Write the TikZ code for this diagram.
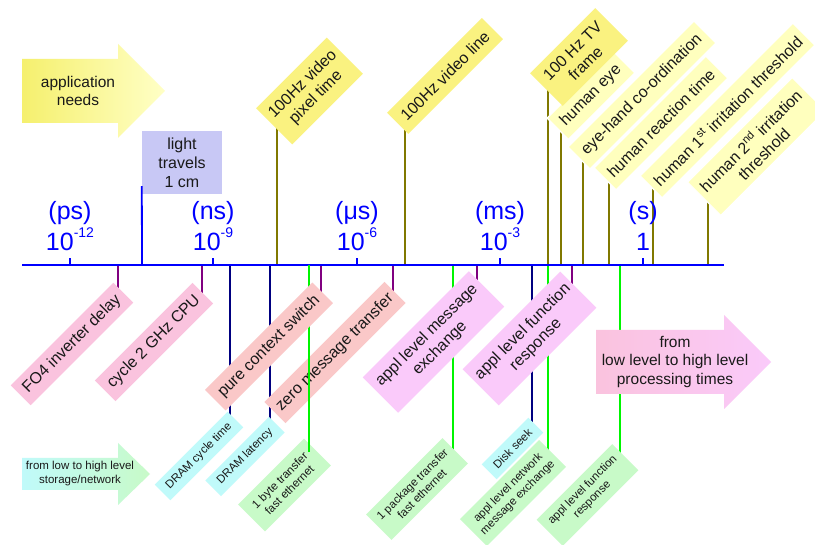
\documentclass[tikz,border=0pt]{standalone}
\usepackage{fontspec}
\setmainfont{Liberation Sans}
\pgfdeclarelayer{bg}
\pgfdeclarelayer{lines}
\pgfsetlayers{bg,lines,main}

\definecolor{axisblue}{RGB}{0,0,255}
\definecolor{olivel}{RGB}{128,120,0}
\definecolor{purplel}{RGB}{128,0,128}
\definecolor{navyl}{RGB}{0,0,128}
\definecolor{greenl}{RGB}{0,245,0}
\definecolor{yelbox}{RGB}{250,242,128}
\definecolor{paleyel}{RGB}{255,255,190}
\definecolor{pinkbox}{RGB}{250,195,222}
\definecolor{salmonbox}{RGB}{250,200,200}
\definecolor{lavpink}{RGB}{250,202,250}
\definecolor{cyanbox}{RGB}{192,250,250}
\definecolor{greenbox}{RGB}{200,250,200}
\definecolor{lavbox}{RGB}{200,200,245}
\definecolor{arrowyelA}{RGB}{245,240,110}
\definecolor{arrowyelB}{RGB}{255,255,198}

\newcommand\pw[1]{\raisebox{13pt}{\fontsize{14}{14}\selectfont #1}}

\begin{document}
\begin{tikzpicture}[x=1pt,y=-1pt,
  txt/.style={inner sep=0pt, align=center, text=black!90},
  lbl/.style={txt, rotate=45, font=\fontsize{16}{18.5}\selectfont},
  sml/.style={txt, rotate=45, font=\fontsize{11.5}{13.5}\selectfont},
  paleb/.style={lbl, fill=paleyel, draw=white, line width=1.2pt},
  yelb/.style={lbl, fill=yelbox},
  unitlab/.style={inner sep=0pt, text=axisblue, font=\fontsize{25}{30}\selectfont, anchor=base},
  upline/.style={draw=olivel, line width=1.8pt},
  tickline/.style={draw=purplel, line width=1.8pt},
  navyline/.style={draw=navyl, line width=1.8pt},
  greenline/.style={draw=greenl, line width=1.8pt},
  axisline/.style={draw=axisblue, line width=1.8pt},
  arrowtxt/.style={txt, font=\fontsize{15.5}{18.5}\selectfont}
]
\useasboundingbox (0,0) rectangle (815,545);
\begin{pgfonlayer}{bg}
\fill[white] (0,0) rectangle (815,545);
\end{pgfonlayer}

% ---------- big arrows ----------
\shade[left color=arrowyelA, right color=arrowyelB]
  (22,59) -- (118,59) -- (118,44) -- (165,91) -- (118,138) -- (118,123) -- (22,123) -- cycle;
\node[arrowtxt] (appneeds) at (78,91) {application\\needs};

\shade[left color=pinkbox, middle color=salmonbox, right color=lavpink]
  (596,330) -- (724,330) -- (724,315) -- (771,362) -- (724,409) -- (724,394) -- (596,394) -- cycle;
\node[arrowtxt] (proc) at (675,362) {from\\low level to high level\\processing times};

\shade[left color=cyanbox, right color=greenbox]
  (22,458) -- (118,458) -- (118,443) -- (150,474) -- (118,505) -- (118,490) -- (22,490) -- cycle;
\node[txt, font=\fontsize{11.5}{13.5}\selectfont] (storage) at (80,473.5) {from low to high level\\storage/network};

% ---------- time axis ----------
\coordinate (axL) at (22,265);
\coordinate (axR) at (724,265);
\draw[axisline] (axL) -- (axR);
\foreach \x in {70,213,357,500,643} \draw[axisline] (\x,265) -- (\x,258);

\node[unitlab] (u-ps) at (70,220) {(ps)};
\node[unitlab] (p-ps) at (70,251) {10\pw{-12}};
\node[unitlab] (u-ns) at (213,220) {(ns)};
\node[unitlab] (p-ns) at (213,251) {10\pw{-9}};
\node[unitlab] (u-us) at (357,220) {(μs)};
\node[unitlab] (p-us) at (357,251) {10\pw{-6}};
\node[unitlab] (u-ms) at (500,220) {(ms)};
\node[unitlab] (p-ms) at (500,251) {10\pw{-3}};
\node[unitlab] (u-s) at (643,220) {(s)};
\node[unitlab] (p-s) at (643,251) {1};

% ---------- light travels ----------
\node[txt, fill=lavbox, minimum width=80pt, minimum height=63pt,
      font=\fontsize{16}{19}\selectfont] (light) at (182,162.5) {light\\travels\\1 cm};
\coordinate (f-light) at (142,265);
\draw[axisline] (f-light) -- ([yshift=8pt]light.south west);

% ---------- application needs (above the axis) ----------
\node[paleb, minimum width=148pt, minimum height=47pt] (irr2) at (756.5,146.5) {human 2\textsuperscript{nd} irritation\\threshold};
\node[paleb, minimum width=216pt, minimum height=31pt] (irr1) at (727.5,110.5) {human 1\textsuperscript{st} irritation threshold};
\node[paleb, minimum width=158pt, minimum height=31pt] (react) at (661,123) {human reaction time};
\node[paleb, minimum width=178pt, minimum height=31pt] (eyehand) at (642,95) {eye-hand co-ordination};
\node[paleb, minimum width=94pt, minimum height=30pt] (eye) at (591,95.5) {human eye};
\node[yelb, minimum width=92pt, minimum height=46pt] (tv) at (579,57) {100 Hz TV\\frame};
\node[yelb, minimum width=100pt, minimum height=51pt] (pix) at (309.5,91) {100Hz video\\pixel time};
\node[yelb, minimum width=134pt, minimum height=30pt] (vline) at (445,76) {100Hz video line};

\begin{pgfonlayer}{lines}
\foreach \x/\n in {277/pix, 405/vline, 548/tv, 561/eye, 583/eyehand, 609/react, 653/irr1, 708/irr2}{
  \coordinate (f-\n) at (\x,265);
  \draw[upline] (f-\n) -- (f-\n |- \n.west);
}
\end{pgfonlayer}

% ---------- processing times (below the axis) ----------
\node[lbl, fill=pinkbox, minimum width=145pt, minimum height=28pt] (fo4) at (72,344) {FO4 inverter delay};
\node[lbl, fill=pinkbox, minimum width=138pt, minimum height=29pt] (cpu) at (154,342) {cycle 2 GHz CPU};
\node[lbl, fill=salmonbox, minimum width=170pt, minimum height=30pt] (zero) at (335,352.5) {zero message transfer};

% storage / network
\node[sml, fill=cyanbox, minimum width=103pt, minimum height=22pt] (dcyc) at (199,456) {DRAM cycle time};
\node[sml, fill=cyanbox, minimum width=90pt, minimum height=22pt] (dlat) at (245,456.5) {DRAM latency};
\node[sml, fill=greenbox, minimum width=93pt, minimum height=38pt] (byte) at (284.5,485) {1 byte transfer\\fast ethernet};
\node[sml, fill=greenbox, minimum width=108pt, minimum height=36pt] (pkg) at (417,489) {1 package transfer\\fast ethernet};
\node[sml, fill=greenbox, minimum width=112pt, minimum height=38pt] (anet) at (513,493) {appl level network\\message exchange};
\node[sml, fill=cyanbox, minimum width=66pt, minimum height=21pt] (disk) at (512.5,448.5) {Disk seek};
\node[sml, fill=greenbox, minimum width=107pt, minimum height=37pt] (afun2) at (587.5,495) {appl level function\\response};

% the 1 byte line runs over the zero message box, under the context switch box
\coordinate (f-byte) at (309,265);
\draw[greenline] (f-byte) -- (f-byte |- byte.east);

\node[lbl, fill=salmonbox, minimum width=152pt, minimum height=29pt] (ctx) at (269,346.5) {pure context switch};
\node[lbl, fill=lavpink, minimum width=150pt, minimum height=50pt] (amsg) at (433.5,342) {appl level message\\exchange};
\node[lbl, fill=lavpink, minimum width=138pt, minimum height=51pt] (afun) at (529.5,338.5) {appl level function\\response};

\begin{pgfonlayer}{lines}
\foreach \x/\n in {118/fo4, 202/cpu, 321/ctx, 393/zero, 477/amsg, 572/afun}{
  \coordinate (f-\n) at (\x,265);
  \draw[tickline] (f-\n) -- (f-\n |- \n.east);
}
\foreach \x/\n in {230/dcyc, 270/dlat, 532/disk}{
  \coordinate (f-\n) at (\x,265);
  \draw[navyline] (f-\n) -- (f-\n |- \n.east);
}
\foreach \x/\n in {453/pkg, 548/anet, 620/afun2}{
  \coordinate (f-\n) at (\x,265);
  \draw[greenline] (f-\n) -- (f-\n |- \n.east);
}
\end{pgfonlayer}
\end{tikzpicture}
\end{document}
